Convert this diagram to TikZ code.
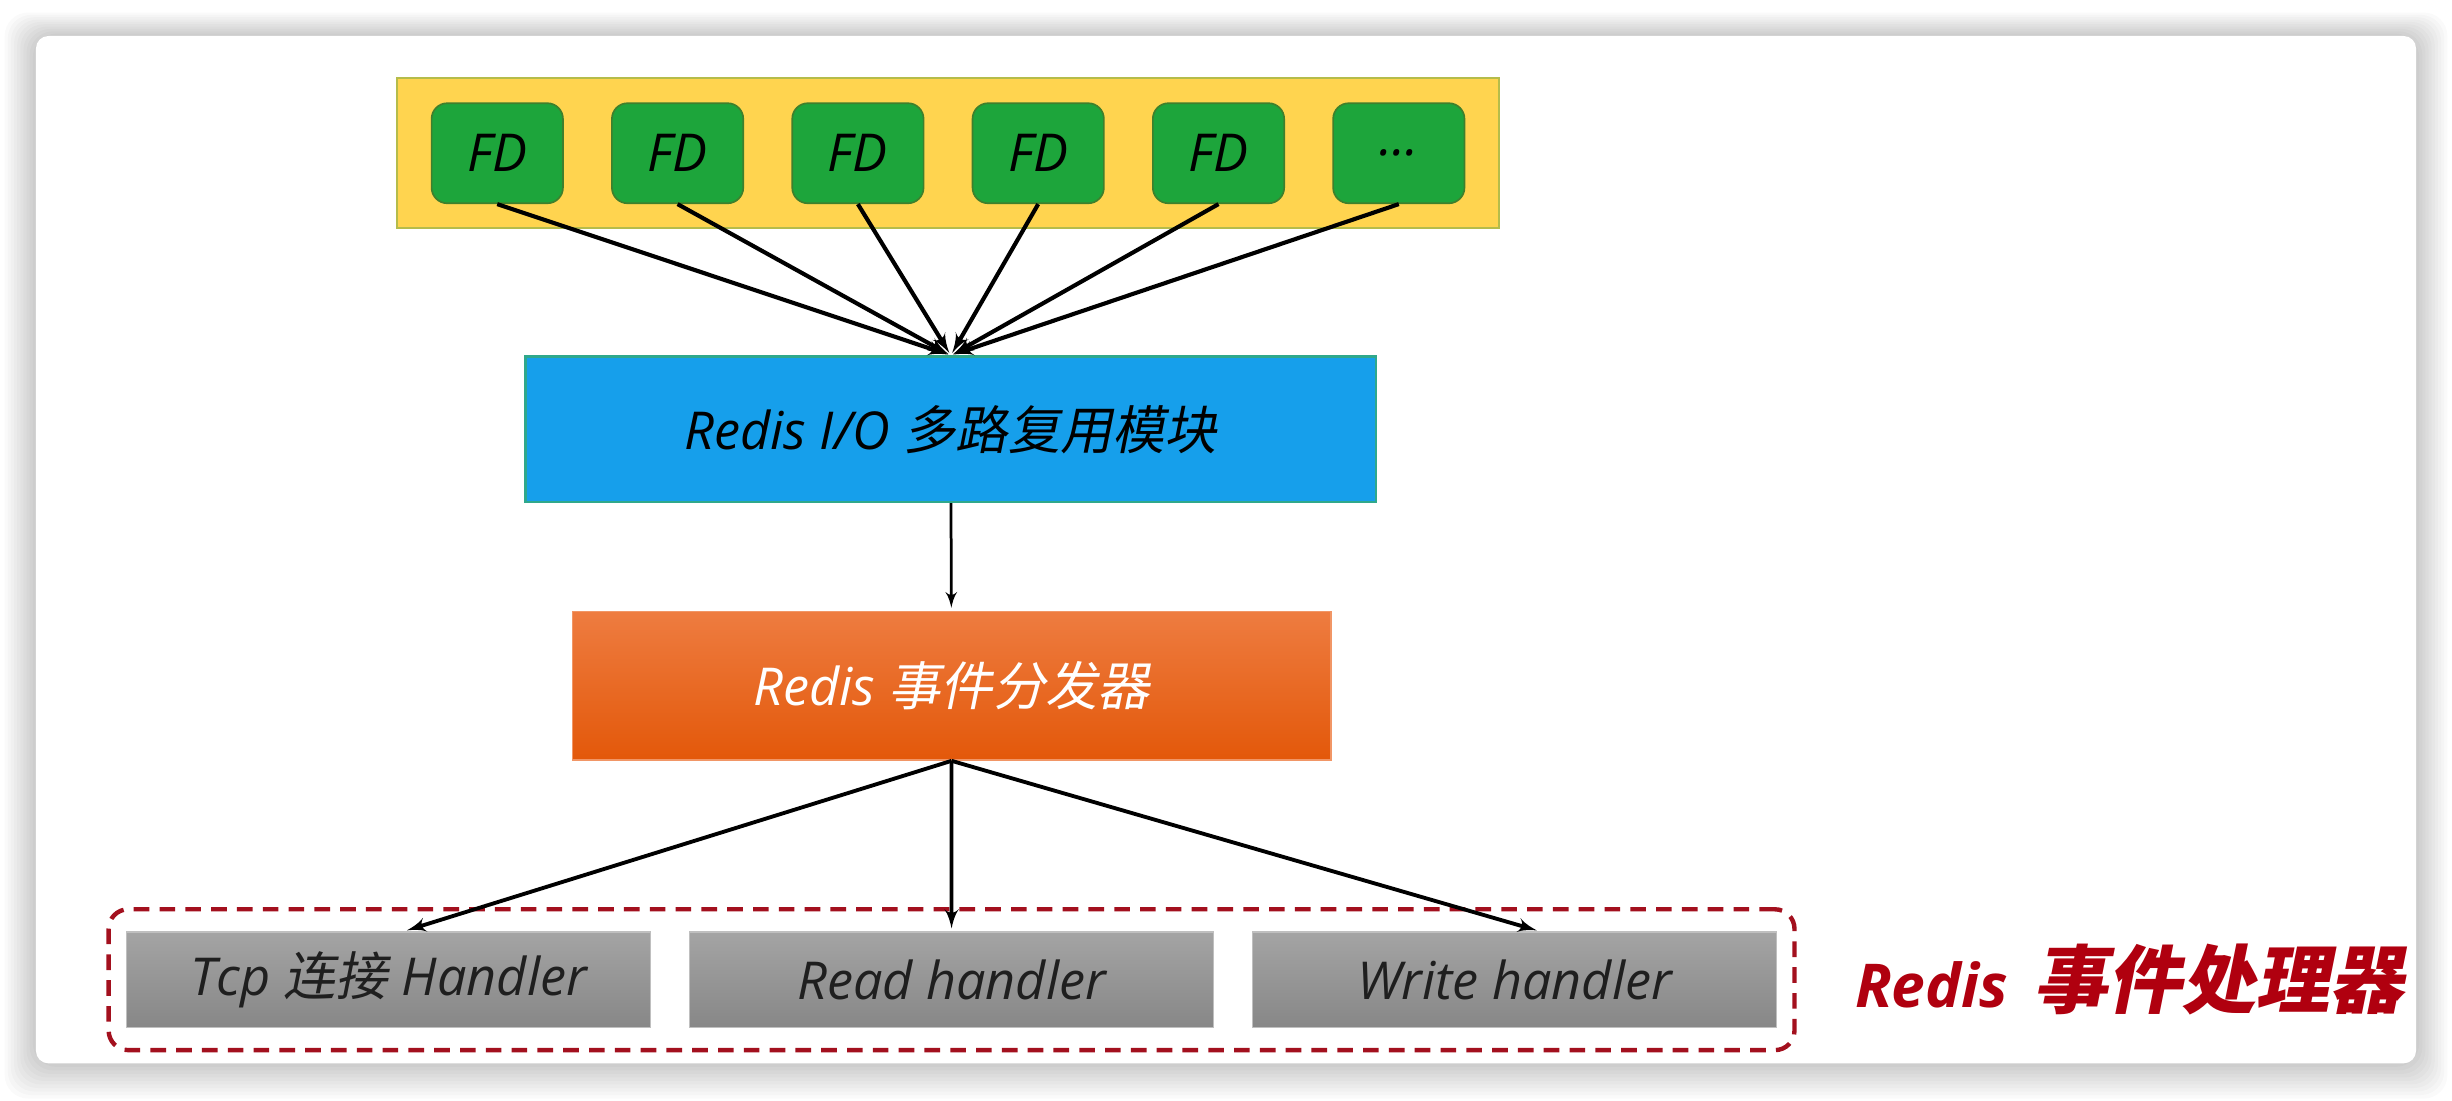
\documentclass[tikz,border=0pt]{standalone}
\usepackage{fontspec}
\setmainfont{Open Sans}
\newfontfamily\cjk{Noto Sans CJK SC}[FakeSlant=0.2]
\usepackage{tikz}
\usetikzlibrary{arrows,positioning,fit}

\definecolor{rowyellow}{HTML}{FFD44F}
\definecolor{rowedge}{HTML}{B5BC4A}
\definecolor{fdgreen}{HTML}{1DA53B}
\definecolor{fdedge}{HTML}{3F7F2C}
\definecolor{ioblue}{HTML}{169FEB}
\definecolor{ioedge}{HTML}{2FA88C}
\definecolor{disptop}{HTML}{EE7C40}
\definecolor{dispbot}{HTML}{E3580A}
\definecolor{htop}{HTML}{A4A4A4}
\definecolor{hbot}{HTML}{878787}
\definecolor{groupred}{HTML}{A3101E}
\definecolor{labelred}{HTML}{B0000F}

\newcommand{\zh}[1]{{\cjk #1}}

\begin{document}
\begin{tikzpicture}[>=latex',shorten >=1pt,auto,node distance=2.306cm,
	font=\fontsize{19}{22}\selectfont\itshape,
	rowbox/.style={fill=rowyellow,draw=rowedge,line width=0.8pt,minimum width=14.1cm,minimum height=1.92cm},
	fd/.style={fill=fdgreen,draw=fdedge,line width=0.6pt,rounded corners=0.2cm,minimum width=1.68cm,minimum height=1.28cm},
	iobox/.style={fill=ioblue,draw=ioedge,line width=0.8pt,minimum width=10.88cm,minimum height=1.86cm},
	dispbox/.style={top color=disptop,bottom color=dispbot,draw=disptop!80!white,line width=0.6pt,text=white,minimum width=9.7cm,minimum height=1.9cm},
	hbox/.style={top color=htop,bottom color=hbot,draw=htop!70!white,line width=0.6pt,text=black!88,minimum width=6.7cm,minimum height=1.22cm},
	group/.style={draw=groupred,line width=1.6pt,dash pattern=on 0.2cm off 0.13cm,rounded corners=0.25cm,inner xsep=0.22cm,inner ysep=0.28cm},
	grouplabel/.style={text=labelred,inner sep=0pt},
	fdline/.style={line width=1.5pt},
	link/.style={line width=1.4pt}]

	% page with the card and its shadow
	\useasboundingbox (0,0) rectangle (31.36,14.08);
	\fill[white] (0,0) rectangle (31.36,14.08);
	\foreach \k in {1,...,10}
		\fill[black,opacity=0.02,rounded corners=0.3cm] ({0.46-\k*0.04},{0.48-\k*0.045}) rectangle ({30.9+\k*0.04},{13.62+\k*0.03});
	\fill[white,rounded corners=0.16cm] (0.46,0.48) rectangle (30.9,13.62);

	% file descriptors
	\node[rowbox] (row) at (12.125,12.12) {};
	\node[fd] (fd1) at (6.36,12.12) {FD};
	\node[fd] (fd2) [right of=fd1] {FD};
	\node[fd] (fd3) [right of=fd2] {FD};
	\node[fd] (fd4) [right of=fd3] {FD};
	\node[fd] (fd5) [right of=fd4] {FD};
	\node[fd] (fd6) [right of=fd5] {...};

	\node[iobox] (io) at (12.16,8.59) {Redis I/O \zh{多路复用模块}};
	\node[dispbox] (disp) at (12.17,5.31) {Redis \zh{事件分发器}};

	% handlers
	\node[hbox] (tcp) at (4.97,1.55) {Tcp \zh{连接} Handler};
	\node[hbox,node distance=7.2cm] (read) [right of=tcp] {Read handler};
	\node[hbox,node distance=7.2cm] (write) [right of=read] {Write handler};
	\node[group,fit=(tcp)(read)(write)] (handlers) {};
	\node[grouplabel] (hlabel) [right=0.74cm of handlers] {{\fontsize{22}{26}\selectfont\bfseries Redis}\hspace{0.32cm}{\fontsize{27}{30}\selectfont\bfseries\cjk 事件处理器}};

	\foreach \i in {1,...,6}
		\path[->] (fd\i.south) edge[fdline] (io.north);
	\path[->] (io) edge[line width=1pt] (disp);
	\path[->] (disp.south) edge[link] ([xshift=0.2cm]tcp.north);
	\path[->] (disp.south) edge[link] (read.north);
	\path[->] (disp.south) edge[link] ([xshift=0.32cm]write.north);
\end{tikzpicture}
\end{document}
